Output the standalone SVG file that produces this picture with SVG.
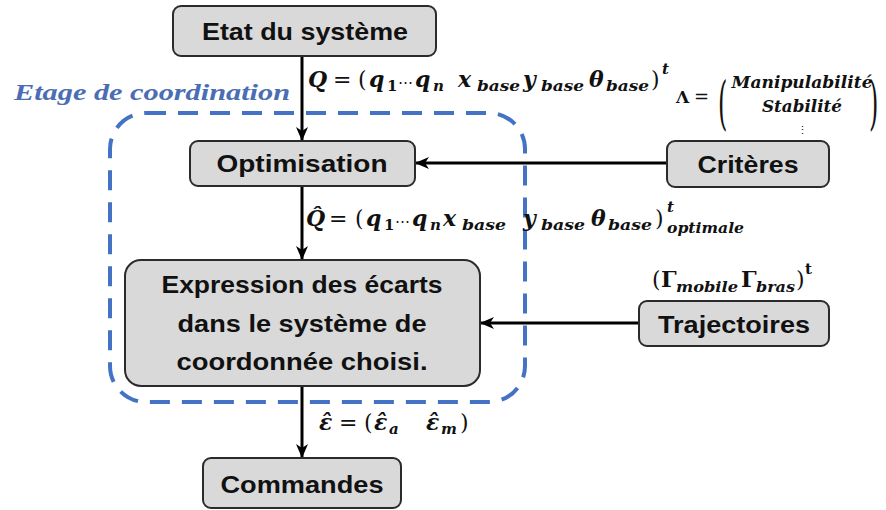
<svg xmlns="http://www.w3.org/2000/svg" width="886" height="510" viewBox="0 0 886 510">
<defs>
<style>
.box{fill:#d9d9d9;stroke:#2b2b2b;stroke-width:2}
.lbl{font-family:"Liberation Sans",Arial,sans-serif;font-weight:bold;font-size:24px;fill:#111;text-anchor:middle}
.m{font-family:"DejaVu Serif","Liberation Serif",serif;font-weight:bold;font-style:italic;font-size:22px;fill:#111}
.mu{font-family:"DejaVu Serif","Liberation Serif",serif;font-weight:bold;font-size:22px;fill:#111}
.n{font-weight:normal}
.s{font-size:15px}
.con{stroke:#000;stroke-width:3;fill:none}
</style>
<marker id="ah" viewBox="0 0 14 12" refX="13" refY="6" markerWidth="14" markerHeight="12" orient="auto" markerUnits="userSpaceOnUse">
<path d="M0,0 L14,6 L0,12 L4,6 z" fill="#000"/>
</marker>
</defs>
<rect width="886" height="510" fill="#fff"/>

<g id="stage">
<rect x="110" y="113" width="415" height="289" rx="36" fill="none" stroke="#4472c4" stroke-width="4" stroke-dasharray="20 12"/>
<text x="14" y="100" textLength="276" lengthAdjust="spacingAndGlyphs" style="font-family:'Liberation Serif',serif;font-weight:bold;font-style:italic;font-size:23px;fill:#4a6db3">Etage de coordination</text>
</g>

<g id="connectors">
<line class="con" x1="302" y1="56" x2="302" y2="140" marker-end="url(#ah)"/>
<line class="con" x1="302" y1="186" x2="302" y2="259" marker-end="url(#ah)"/>
<line class="con" x1="302" y1="386" x2="302" y2="457" marker-end="url(#ah)"/>
<line class="con" x1="667" y1="163" x2="416" y2="163" marker-end="url(#ah)"/>
<line class="con" x1="639" y1="323" x2="481" y2="323" marker-end="url(#ah)"/>
</g>

<g id="etat">
<rect class="box" x="173" y="6" width="263" height="50" rx="8"/>
<text class="lbl" x="305" y="40" textLength="206" lengthAdjust="spacingAndGlyphs">Etat du système</text>
</g>
<g id="optimisation">
<rect class="box" x="190" y="141" width="225" height="45" rx="8"/>
<text class="lbl" x="302" y="172" textLength="171" lengthAdjust="spacingAndGlyphs">Optimisation</text>
</g>
<g id="expression">
<rect class="box" x="125" y="260" width="355" height="126" rx="16"/>
<text class="lbl" x="302" y="293" textLength="281" lengthAdjust="spacingAndGlyphs">Expression des écarts</text>
<text class="lbl" x="302" y="332" textLength="249" lengthAdjust="spacingAndGlyphs">dans le système de</text>
<text class="lbl" x="302" y="370" textLength="251" lengthAdjust="spacingAndGlyphs">coordonnée choisi.</text>
</g>
<g id="criteres">
<rect class="box" x="667" y="141" width="162" height="46" rx="8"/>
<text class="lbl" x="748" y="173" textLength="101" lengthAdjust="spacingAndGlyphs">Critères</text>
</g>
<g id="trajectoires">
<rect class="box" x="639" y="301" width="190" height="45" rx="8"/>
<text class="lbl" x="734" y="333" textLength="152" lengthAdjust="spacingAndGlyphs">Trajectoires</text>
</g>
<g id="commandes">
<rect class="box" x="203" y="458" width="198" height="50" rx="8"/>
<text class="lbl" x="302" y="493" textLength="163" lengthAdjust="spacingAndGlyphs">Commandes</text>
</g>

<g id="formula-Q">
<text class="m" x="308" y="87">Q</text>
<text class="mu n" x="333" y="87">=</text>
<text class="mu n" x="358" y="87">(</text>
<text class="m" x="369" y="87">q</text>
<text class="mu s" x="387" y="91">1</text>
<text class="mu n" x="398" y="87" style="font-size:15px">⋯</text>
<text class="m" x="415" y="87">q</text>
<text class="m s" x="433" y="91">n</text>
<text class="m" x="458" y="87">x</text>
<text class="m s" x="477" y="91" textLength="43" lengthAdjust="spacingAndGlyphs">base</text>
<text class="m" x="523" y="87">y</text>
<text class="m s" x="541" y="91" textLength="43" lengthAdjust="spacingAndGlyphs">base</text>
<text class="m" x="589" y="87">θ</text>
<text class="m s" x="606" y="91" textLength="43" lengthAdjust="spacingAndGlyphs">base</text>
<text class="mu n" x="651" y="87">)</text>
<text class="m s" x="662" y="74">t</text>
</g>

<g id="formula-lambda">
<text class="mu" x="676" y="103" style="font-size:17px">Λ</text>
<text class="mu n" x="694" y="103" style="font-size:18px">=</text>
<text class="mu n" x="0" y="0" transform="translate(718,123) scale(1,2.4)" style="font-size:24px">(</text>
<text class="mu n" x="0" y="0" transform="translate(869,123) scale(1,2.4)" style="font-size:24px">)</text>
<text class="m" x="802" y="88" text-anchor="middle" textLength="141" lengthAdjust="spacingAndGlyphs" style="font-size:16px">Manipulabilité</text>
<text class="m" x="802" y="112" text-anchor="middle" textLength="80" lengthAdjust="spacingAndGlyphs" style="font-size:16px">Stabilité</text>
<text class="mu n" x="802" y="134" text-anchor="middle" style="font-size:11px">⋮</text>
</g>

<g id="formula-Qhat">
<text class="m" x="306" y="226">Q̂</text>
<text class="mu n" x="329" y="226">=</text>
<text class="mu n" x="355" y="226">(</text>
<text class="m" x="366" y="226">q</text>
<text class="mu s" x="384" y="230">1</text>
<text class="mu n" x="395" y="226" style="font-size:15px">⋯</text>
<text class="m" x="412" y="226">q</text>
<text class="m s" x="430" y="230">n</text>
<text class="m" x="443" y="226">x</text>
<text class="m s" x="462" y="230" textLength="44" lengthAdjust="spacingAndGlyphs">base</text>
<text class="m" x="523" y="226">y</text>
<text class="m s" x="541" y="230" textLength="44" lengthAdjust="spacingAndGlyphs">base</text>
<text class="m" x="591" y="226">θ</text>
<text class="m s" x="608" y="230" textLength="44" lengthAdjust="spacingAndGlyphs">base</text>
<text class="mu n" x="655" y="226">)</text>
<text class="m s" x="667" y="212">t</text>
<text class="m s" x="667" y="233" textLength="77" lengthAdjust="spacingAndGlyphs">optimale</text>
</g>

<g id="formula-gamma">
<text class="mu n" x="652" y="287">(</text>
<text class="mu" x="661" y="287">Γ</text>
<text class="m s" x="676" y="292" textLength="62" lengthAdjust="spacingAndGlyphs">mobile</text>
<text class="mu" x="741" y="287">Γ</text>
<text class="m s" x="756" y="292" textLength="39" lengthAdjust="spacingAndGlyphs">bras</text>
<text class="mu n" x="796" y="287">)</text>
<text class="mu s" x="805" y="274">t</text>
</g>

<g id="formula-eps">
<text class="m" x="319" y="430">ε̂</text>
<text class="mu n" x="339" y="430">=</text>
<text class="mu n" x="364" y="430">(</text>
<text class="m" x="374" y="430">ε̂</text>
<text class="m s" x="389" y="434">a</text>
<text class="m" x="426" y="430">ε̂</text>
<text class="m s" x="441" y="434">m</text>
<text class="mu n" x="460" y="430">)</text>
</g>
</svg>
